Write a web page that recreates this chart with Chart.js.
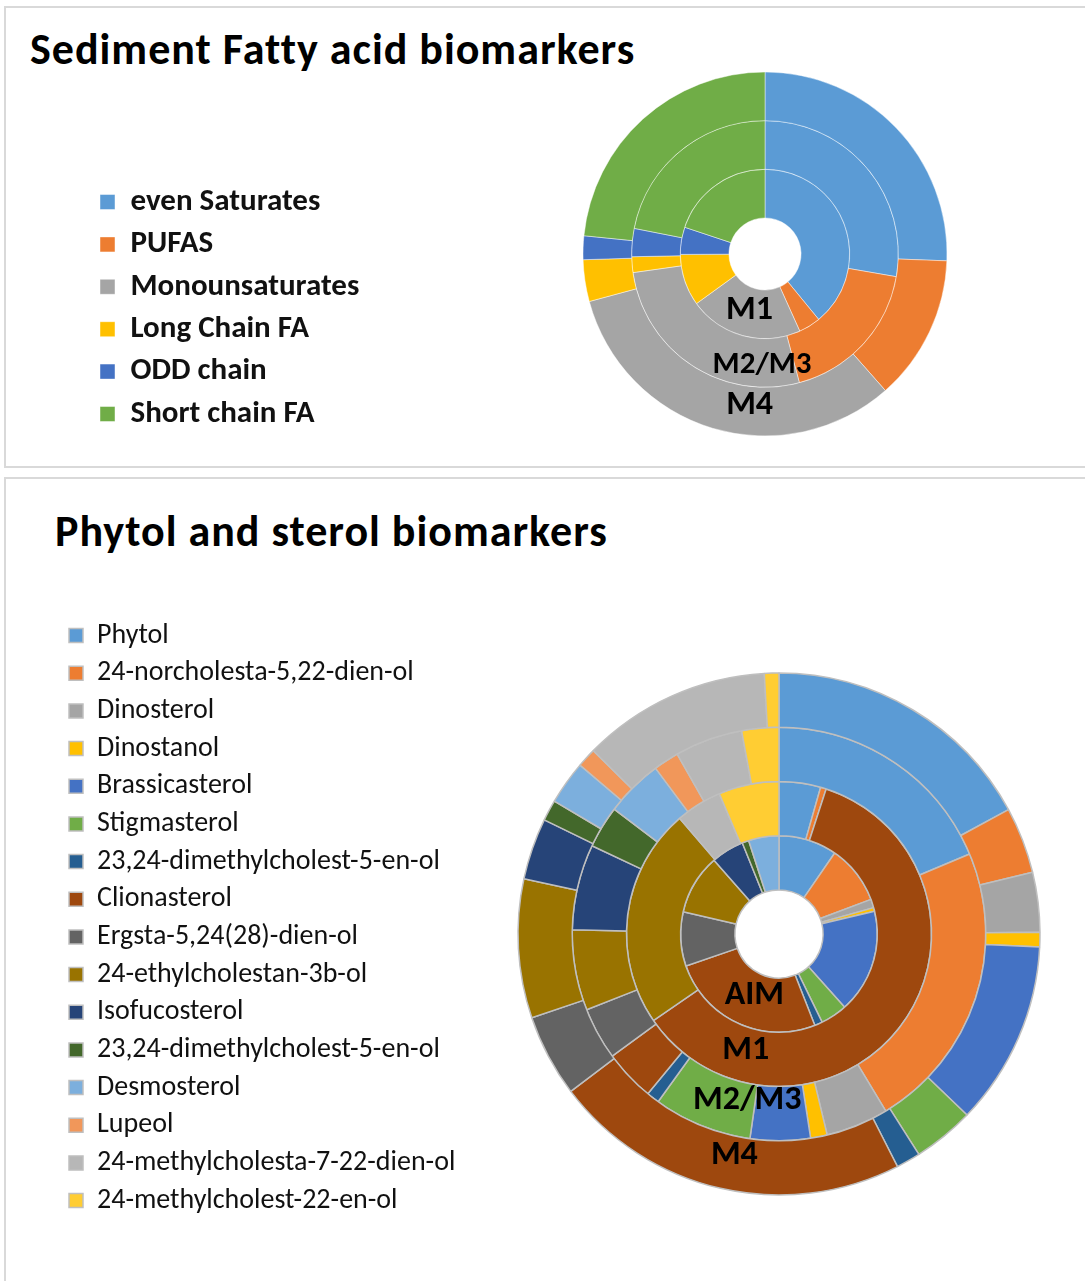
<!DOCTYPE html>
<html lang="en">
<head>
    <meta charset="UTF-8">
    <title>Biomarker composition</title>
    <style>
        html, body {
            margin: 0;
            padding: 0;
            background: #fff;
            overflow: hidden;
            width: 1085px;
            height: 1281px;
        }
        .panel {
            position: absolute;
            box-sizing: border-box;
            border: 2px solid #d9d9d9;
            background: #fff;
        }
        .heading {
            position: absolute;
            font-family: Calibri, Carlito, Lato, sans-serif;
            font-weight: bold;
            font-size: 44px;
            letter-spacing: 1px;
            line-height: 1;
            white-space: nowrap;
            color: #000;
        }
        canvas {
            position: absolute;
            left: 0;
        }
    </style>
    <script src="https://cdn.jsdelivr.net/npm/chart.js"></script>
</head>
<body>
    <div class="panel" style="left:4px; top:6px; width:1200px; height:462px;"></div>
    <div class="panel" style="left:4px; top:477px; width:1200px; height:900px;"></div>

    <div class="heading" style="left:30px; top:27px;">Sediment Fatty acid biomarkers</div>
    <div class="heading" style="left:55px; top:509px;">Phytol and sterol biomarkers</div>

    <canvas id="fattyChart" style="top:0px;"></canvas>
    <canvas id="sterolChart" style="top:477px;"></canvas>

    <script>
        // Fatty acid classes, share (%) per sampling ring
        const fattyCategories = ['even Saturates', 'PUFAS', 'Monounsaturates', 'Long Chain FA', 'ODD chain', 'Short chain FA'];
        const fattyM1 = [39.1, 4.2, 21.8, 9.9, 5.2, 19.9];
        const fattyM2M3 = [27.7, 18.1, 26.9, 1.9, 3.4, 21.9];
        const fattyM4 = [25.6, 12.9, 32.3, 3.7, 2.1, 23.4];
        const fattyColors = ['#5B9BD5', '#ED7D31', '#A5A5A5', '#FFC000', '#4472C4', '#70AD47'];

        // Phytol and sterols, share (%) per sampling ring
        const sterolCategories = [
            'Phytol',
            '24-norcholesta-5,22-dien-ol',
            'Dinosterol',
            'Dinostanol',
            'Brassicasterol',
            'Stigmasterol',
            '23,24-dimethylcholest-5-en-ol',
            'Clionasterol',
            'Ergsta-5,24(28)-dien-ol',
            '24-ethylcholestan-3b-ol',
            'Isofucosterol',
            '23,24-dimethylcholest-5-en-ol',
            'Desmosterol',
            'Lupeol',
            '24-methylcholesta-7-22-dien-ol',
            '24-methylcholest-22-en-ol'
        ];
        const sterolAIM = [9.6, 9.7, 1.4, 0.6, 17.1, 4.4, 1.3, 25.7, 8.9, 9.9, 5.4, 1.1, 5.0, 0, 0, 0];
        const sterolM1 = [4.4, 0.6, 0, 0, 0, 0, 0, 60.4, 0, 23.3, 0, 0, 0, 0, 4.9, 6.4];
        const sterolM2M3 = [18.7, 22.7, 4.9, 1.3, 4.7, 7.7, 1.0, 4.0, 4.1, 6.3, 6.7, 3.3, 4.5, 2.0, 5.3, 2.9];
        const sterolM4 = [17.1, 4.1, 3.7, 0.9, 11.4, 3.8, 1.5, 22.2, 5.1, 8.6, 3.8, 1.3, 2.7, 1.2, 11.7, 0.9];
        const sterolColors = [
            '#5B9BD5', '#ED7D31', '#A5A5A5', '#FFC000', '#4472C4', '#70AD47', '#255E91', '#9E480E',
            '#636363', '#997300', '#264478', '#43682B', '#7CAFDD', '#F1975A', '#B7B7B7', '#FFCD33'
        ];

        const FONT = 'Calibri, Carlito, Lato, sans-serif';

        // writes the ring name inside each ring of the doughnut
        const ringLabels = {
            id: 'ringLabels',
            afterDatasetsDraw(chart, args, opts) {
                const ctx = chart.ctx;
                ctx.save();
                ctx.textAlign = 'center';
                ctx.textBaseline = 'middle';
                ctx.fillStyle = '#000';
                chart.data.datasets.forEach((ds, i) => {
                    const meta = chart.getDatasetMeta(i);
                    const ctrl = meta.controller;
                    const centre = meta.data[0];
                    const place = opts.placement[ds.label];
                    const r = ctrl.innerRadius + place.depth * (ctrl.outerRadius - ctrl.innerRadius);
                    const a = place.angle * Math.PI / 180;
                    ctx.font = 'bold ' + place.size + 'px ' + FONT;
                    ctx.fillText(ds.label, centre.x + r * Math.sin(a), centre.y - r * Math.cos(a));
                });
                ctx.restore();
            }
        };

        const measureCtx = document.createElement('canvas').getContext('2d');

        // width Chart.js gives a vertical legend (padding + box + gap + widest text + 10)
        function legendWidth(texts, font, boxWidth, padding) {
            measureCtx.font = font.weight + ' ' + font.size + 'px ' + font.family;
            const widest = Math.max(...texts.map(t => measureCtx.measureText(t).width));
            return padding + boxWidth + font.size / 2 + widest + 10;
        }

        function makeRings(canvasId, s) {
            const canvas = document.getElementById(canvasId);
            canvas.width = s.width;
            canvas.height = s.height;
            canvas.style.width = s.width + 'px';
            canvas.style.height = s.height + 'px';

            const padLeft = s.boxLeft - s.legendPad;
            const legW = legendWidth(s.labels, s.font, s.boxSize, s.legendPad);
            const areaLeft = padLeft + legW;
            const padRight = s.width - (2 * s.cx - areaLeft);
            const padTop = s.cy - s.halfSpan;
            const padBottom = s.height - (s.cy + s.halfSpan);

            return new Chart(canvas.getContext('2d'), {
                type: 'doughnut',
                data: {
                    labels: s.labels,
                    datasets: s.rings.map(r => ({
                        label: r.label,
                        data: r.data,
                        backgroundColor: s.colors,
                        borderColor: s.border,
                        borderWidth: s.borderWidth,
                        clip: false
                    }))
                },
                options: {
                    responsive: false,
                    animation: false,
                    events: [],
                    radius: s.radius,
                    cutout: s.cutout,
                    layout: {
                        padding: { left: padLeft, right: padRight, top: padTop, bottom: padBottom }
                    },
                    plugins: {
                        tooltip: { enabled: false },
                        title: { display: false },
                        legend: {
                            position: 'left',
                            align: s.legendAlign,
                            labels: {
                                boxWidth: s.boxSize,
                                boxHeight: s.boxSize,
                                padding: s.legendPad,
                                color: '#111',
                                font: s.font
                            }
                        },
                        ringLabels: { placement: s.placement }
                    }
                },
                plugins: [ringLabels]
            });
        }

        makeRings('fattyChart', {
            width: 1300, height: 466,
            cx: 765, cy: 254, halfSpan: 186.9,
            radius: 182, cutout: '19.8%',
            labels: fattyCategories,
            colors: fattyColors,
            border: 'rgba(255,255,255,0.45)', borderWidth: 1,
            rings: [
                { label: 'M4', data: fattyM4 },
                { label: 'M2/M3', data: fattyM2M3 },
                { label: 'M1', data: fattyM1 }
            ],
            font: { family: FONT, size: 31, weight: 'bold' },
            boxSize: 15, legendPad: 11.4, boxLeft: 100, legendAlign: 'end',
            placement: {
                'M4': { angle: 185.8, depth: 0.39, size: 34 },
                'M2/M3': { angle: 181.5, depth: 0.55, size: 31 },
                'M1': { angle: 195.3, depth: 0.47, size: 34 }
            }
        });

        makeRings('sterolChart', {
            width: 1250, height: 804,
            cx: 779, cy: 457, halfSpan: 322.1,
            radius: 261, cutout: '16.9%',
            labels: sterolCategories,
            colors: sterolColors,
            border: '#BFBFBF', borderWidth: 1.5,
            rings: [
                { label: 'M4', data: sterolM4 },
                { label: 'M2/M3', data: sterolM2M3 },
                { label: 'M1', data: sterolM1 },
                { label: 'AIM', data: sterolAIM }
            ],
            font: { family: FONT, size: 28, weight: 'normal' },
            boxSize: 14, legendPad: 9.67, boxLeft: 69, legendAlign: 'start',
            placement: {
                'M4': { angle: 191.4, depth: 0.35, size: 34 },
                'M2/M3': { angle: 190.8, depth: 0.31, size: 34 },
                'M1': { angle: 195.9, depth: 0.42, size: 34 },
                'AIM': { angle: 201.8, depth: 0.41, size: 34 }
            }
        });
    </script>
</body>
</html>
